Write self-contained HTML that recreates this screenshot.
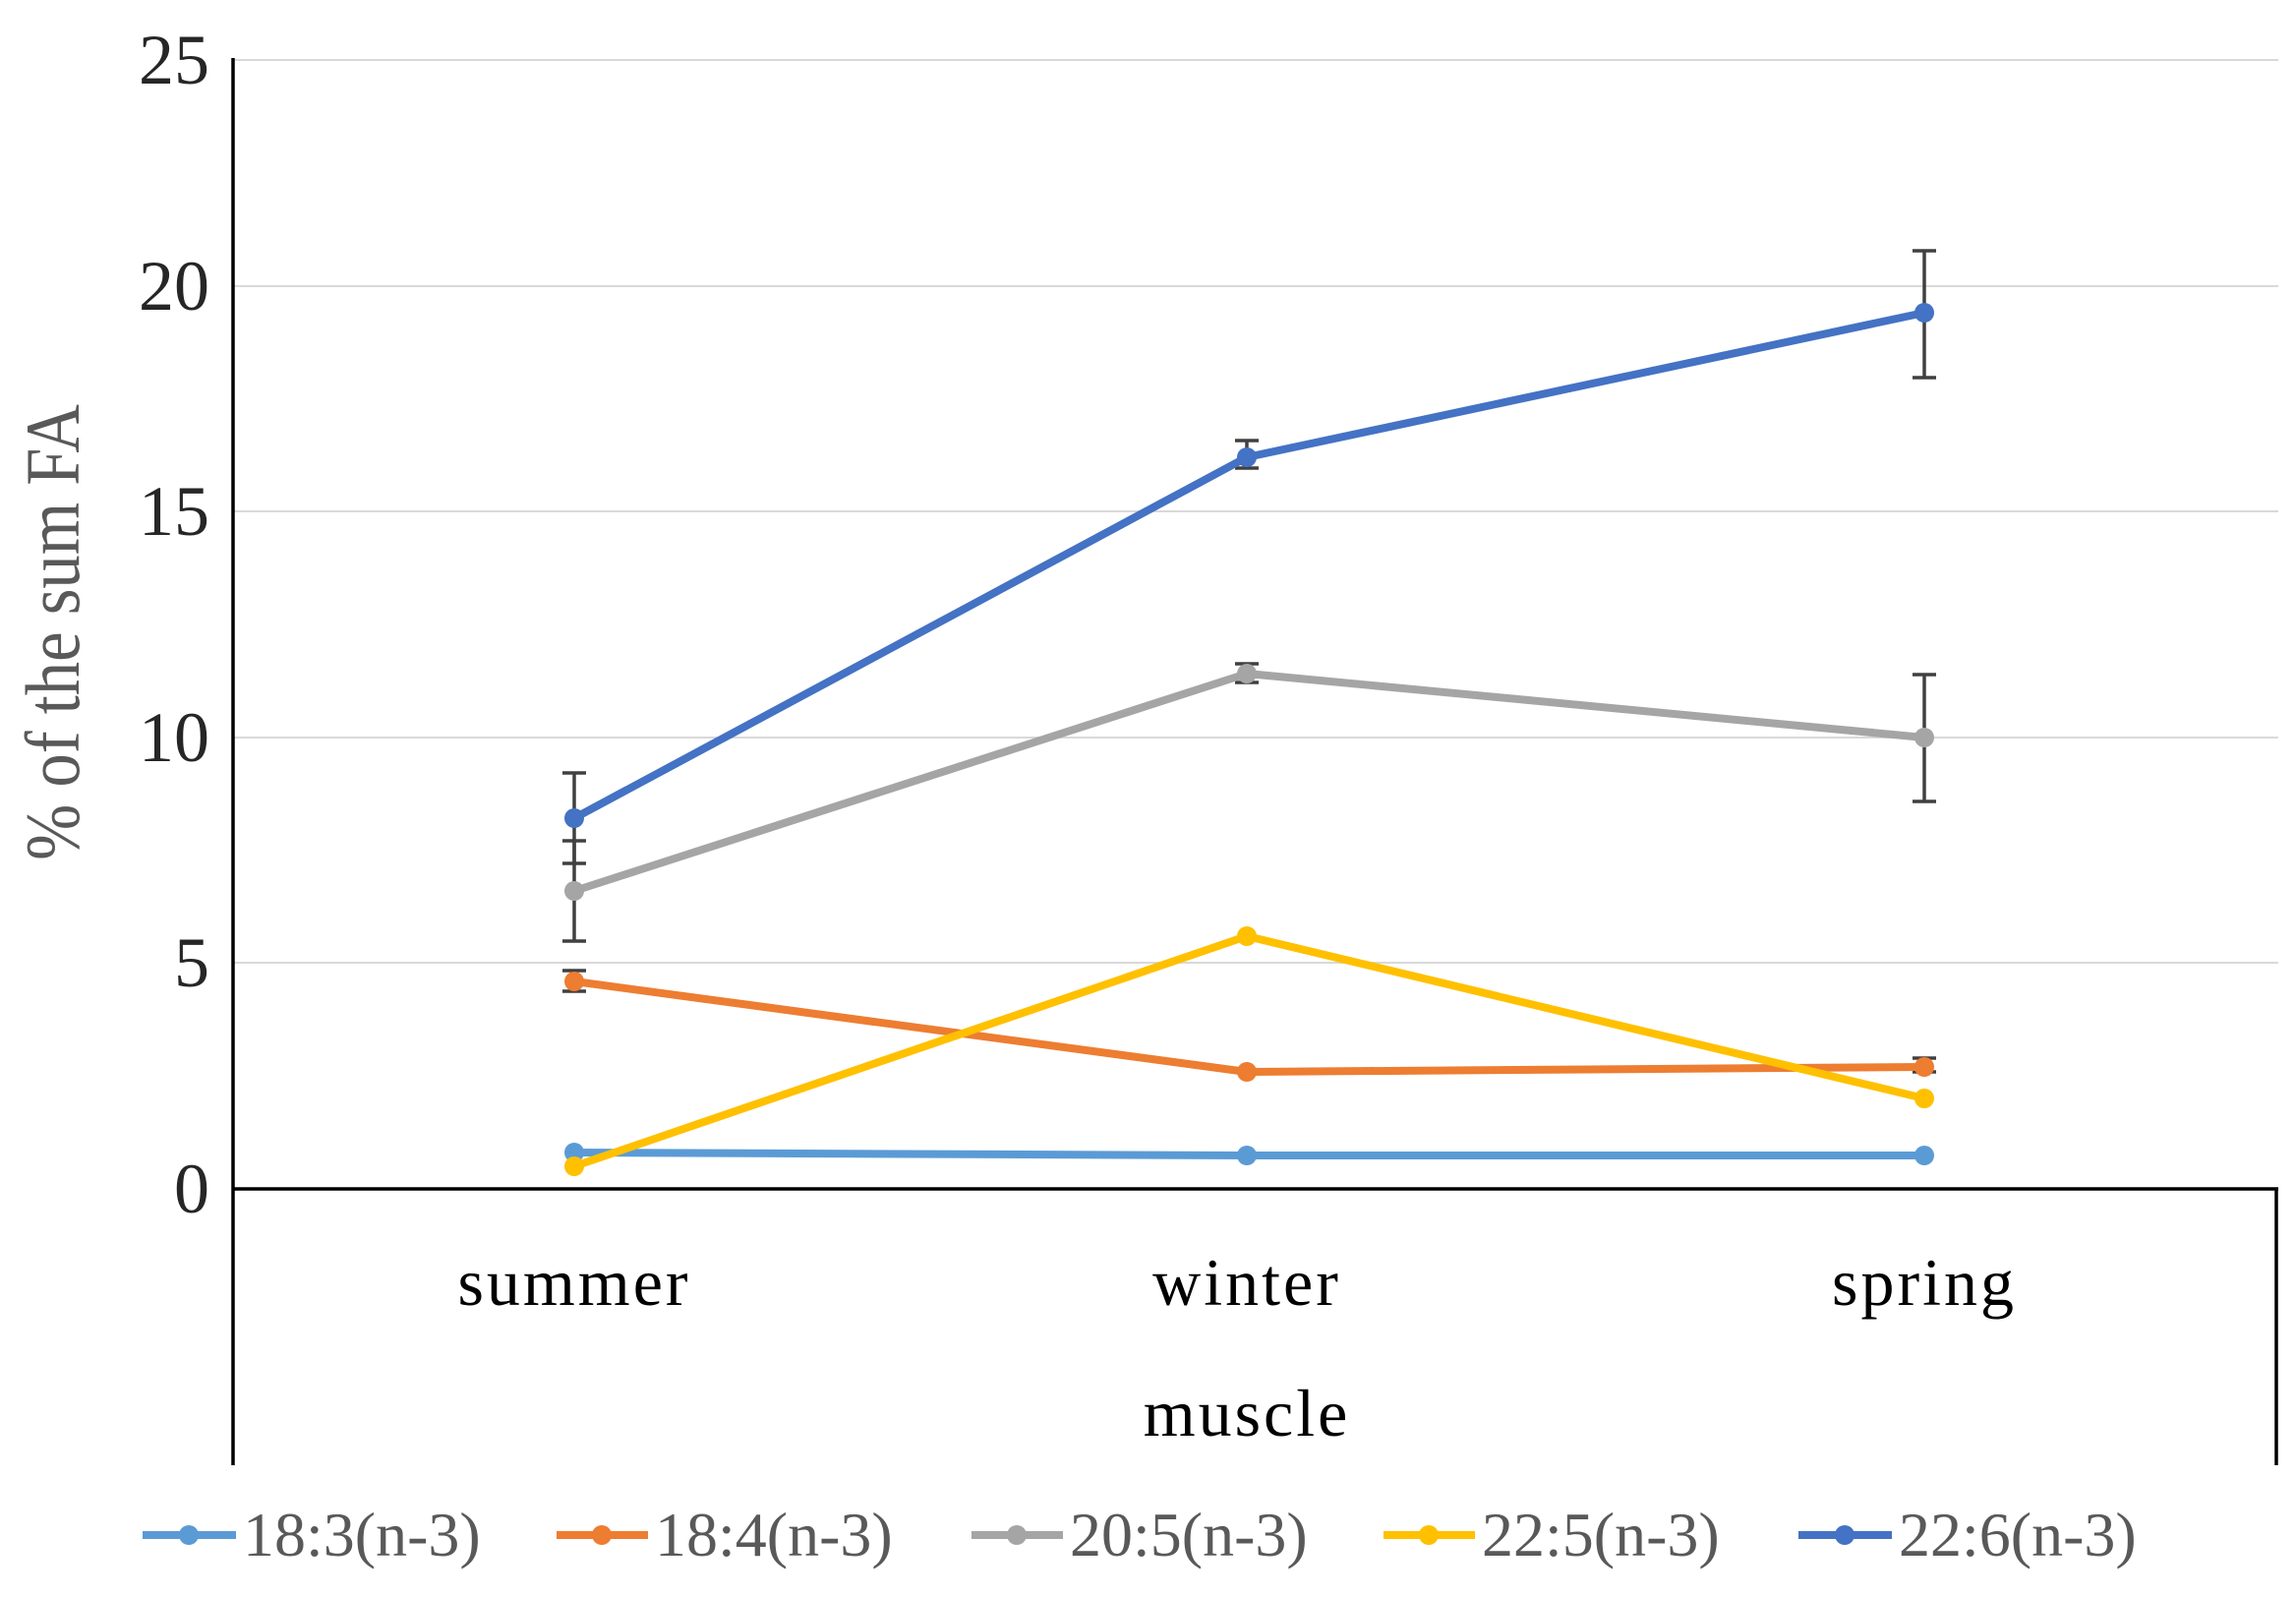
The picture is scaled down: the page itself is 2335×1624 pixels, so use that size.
<!DOCTYPE html>
<html><head><style>body{margin:0;background:#fff}</style></head><body>
<svg width="2335" height="1619" xmlns="http://www.w3.org/2000/svg" font-family="Liberation Serif, serif">
<g transform="translate(0,-5)">
<g stroke="#d9d9d9" stroke-width="2">
<line x1="237" y1="66" x2="2317" y2="66"/><line x1="237" y1="296" x2="2317" y2="296"/>
<line x1="237" y1="525" x2="2317" y2="525"/><line x1="237" y1="755" x2="2317" y2="755"/>
<line x1="237" y1="984" x2="2317" y2="984"/></g>
<g stroke="#000" stroke-width="3.5" fill="none">
<line x1="237" y1="64" x2="237" y2="1495"/><line x1="237" y1="1214" x2="2317" y2="1214"/>
<line x1="2315" y1="1214" x2="2315" y2="1495"/></g>
<g font-size="72" fill="#262626" text-anchor="end">
<text x="213" y="90">25</text><text x="213" y="320">20</text><text x="213" y="549">15</text>
<text x="213" y="779">10</text><text x="213" y="1008">5</text><text x="213" y="1238">0</text></g>
<text transform="translate(80,648) rotate(-90) scale(0.88,1)" font-size="78" fill="#595959" text-anchor="middle">% of the sum FA</text>
<g font-size="68" fill="#000" text-anchor="middle" letter-spacing="3">
<text x="584" y="1332">summer</text><text x="1268" y="1332">winter</text><text x="1957" y="1332">spring</text>
<text x="1268" y="1465">muscle</text></g>
<g stroke="#404040" stroke-width="3.5" fill="none">
<path d="M584 791V883M572 791H596M572 883H596"/>
<path d="M584 860V962M572 860H596M572 962H596"/>
<path d="M584 992V1013M572 992H596M572 1013H596"/>
<path d="M1268 453V481M1256 453H1280M1256 481H1280"/>
<path d="M1268 680V699M1256 680H1280M1256 699H1280"/>
<path d="M1957 260V389M1945 260H1969M1945 389H1969"/>
<path d="M1957 691V820M1945 691H1969M1945 820H1969"/>
<path d="M1957 1081V1095M1945 1081H1969M1945 1095H1969"/>
</g>
<g stroke-width="8" fill="none" stroke-linejoin="round">
<polyline stroke="#5B9BD5" points="584,1177 1268,1180 1957,1180"/>
<polyline stroke="#ED7D31" points="584,1003 1268,1095 1957,1090"/>
<polyline stroke="#A5A5A5" points="584,911 1268,690 1957,755"/>
<polyline stroke="#FFC000" points="584,1191 1268,957 1957,1122"/>
<polyline stroke="#4472C4" points="584,837 1268,470 1957,323"/>
</g>
<g>
<g fill="#5B9BD5"><circle cx="584" cy="1177" r="10"/><circle cx="1268" cy="1180" r="10"/><circle cx="1957" cy="1180" r="10"/></g>
<g fill="#ED7D31"><circle cx="584" cy="1003" r="10"/><circle cx="1268" cy="1095" r="10"/><circle cx="1957" cy="1090" r="10"/></g>
<g fill="#A5A5A5"><circle cx="584" cy="911" r="10"/><circle cx="1268" cy="690" r="10"/><circle cx="1957" cy="755" r="10"/></g>
<g fill="#FFC000"><circle cx="584" cy="1191" r="10"/><circle cx="1268" cy="957" r="10"/><circle cx="1957" cy="1122" r="10"/></g>
<g fill="#4472C4"><circle cx="584" cy="837" r="10"/><circle cx="1268" cy="470" r="10"/><circle cx="1957" cy="323" r="10"/></g>
</g>
</g>
<g transform="translate(0,-6)">
<g stroke-width="8">
<line x1="145" y1="1567" x2="240" y2="1567" stroke="#5B9BD5"/><circle cx="192" cy="1567" r="10" fill="#5B9BD5"/>
<line x1="566" y1="1567" x2="659" y2="1567" stroke="#ED7D31"/><circle cx="612" cy="1567" r="10" fill="#ED7D31"/>
<line x1="988" y1="1567" x2="1081" y2="1567" stroke="#A5A5A5"/><circle cx="1034" cy="1567" r="10" fill="#A5A5A5"/>
<line x1="1407" y1="1567" x2="1500" y2="1567" stroke="#FFC000"/><circle cx="1453" cy="1567" r="10" fill="#FFC000"/>
<line x1="1829" y1="1567" x2="1924" y2="1567" stroke="#4472C4"/><circle cx="1876" cy="1567" r="10" fill="#4472C4"/>
</g>
<g font-size="64" fill="#595959">
<text x="247" y="1588">18:3(n-3)</text><text x="666" y="1588">18:4(n-3)</text><text x="1088" y="1588">20:5(n-3)</text>
<text x="1507" y="1588">22:5(n-3)</text><text x="1931" y="1588">22:6(n-3)</text></g>
</g>
</svg>
</body></html>
